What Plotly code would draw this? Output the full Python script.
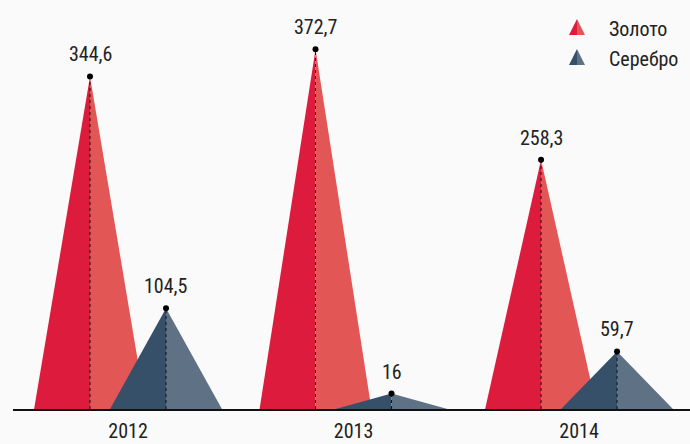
import plotly.graph_objects as go

years = ["2012", "2013", "2014"]
gold = [344.6, 372.7, 258.3]
silver = [104.5, 16, 59.7]
gold_labels = ["344,6", "372,7", "258,3"]
silver_labels = ["104,5", "16", "59,7"]
series_names = ["Золото", "Серебро"]

FONT = "Roboto Condensed, Liberation Sans Narrow, DejaVu Sans Condensed, Roboto, sans-serif"
GOLD_L, GOLD_R = "#DD1C3D", "#E35656"
SILV_L, SILV_R = "#36506A", "#5E7185"
OFF = 0.1685
HW = 0.248
FS = 20

fig = go.Figure()

def halves(values, offset):
    lx, ly, rx, ry = [], [], [], []
    for i, v in enumerate(values):
        c = i + offset
        lx += [c - HW, c, c, None]
        ly += [0, v, 0, None]
        rx += [c, c + HW, c, None]
        ry += [v, 0, 0, None]
    return lx, ly, rx, ry

for vals, off, cl, cr in [(gold, -OFF, GOLD_L, GOLD_R), (silver, OFF, SILV_L, SILV_R)]:
    lx, ly, rx, ry = halves(vals, off)
    fig.add_trace(go.Scatter(x=lx, y=ly, fill="toself", fillcolor=cl, mode="none",
                             hoverinfo="skip", showlegend=False))
    fig.add_trace(go.Scatter(x=rx, y=ry, fill="toself", fillcolor=cr, mode="none",
                             hoverinfo="skip", showlegend=False))

for vals, labels, off in [(gold, gold_labels, -OFF), (silver, silver_labels, OFF)]:
    dx, dy = [], []
    for i, v in enumerate(vals):
        dx += [i + off, i + off, None]
        dy += [0, v, None]
    fig.add_trace(go.Scatter(x=dx, y=dy, mode="lines",
                             line=dict(color="#111111", width=1, dash="dot"),
                             hoverinfo="skip", showlegend=False))
    xs = [i + off for i in range(len(vals))]
    fig.add_trace(go.Scatter(x=xs, y=vals, mode="markers",
                             marker=dict(color="#000000", size=6),
                             showlegend=False, hoverinfo="skip", cliponaxis=False))
    for x, v, t in zip(xs, vals, labels):
        fig.add_annotation(x=x, y=v, text=t, showarrow=False, xanchor="center",
                           yanchor="bottom", yshift=8,
                           font=dict(family=FONT, size=FS, color="#222222"))

# legend (manual)
L, T, PW, PH = 13, 23, 677, 386
def px(x):
    return (x - L) / PW
def py(y):
    return (T + PH - y) / PH

for (ytop, cl, cr, name) in [(19, GOLD_L, GOLD_R, series_names[0]), (49, SILV_L, SILV_R, series_names[1])]:
    yb = ytop + 16
    fig.add_shape(type="path", xref="paper", yref="paper",
                  path=f"M {px(569)} {py(yb)} L {px(577)} {py(ytop)} L {px(577)} {py(yb)} Z",
                  fillcolor=cl, line=dict(width=0))
    fig.add_shape(type="path", xref="paper", yref="paper",
                  path=f"M {px(577)} {py(ytop)} L {px(585)} {py(yb)} L {px(577)} {py(yb)} Z",
                  fillcolor=cr, line=dict(width=0))
    fig.add_annotation(x=px(607), y=py(ytop + 10), xref="paper", yref="paper",
                       text=name, showarrow=False, xanchor="left", yanchor="middle",
                       font=dict(family=FONT, size=FS, color="#222222"))

fig.update_layout(
    width=690, height=444,
    margin=dict(l=L, r=0, t=T, b=444 - T - PH, autoexpand=False),
    paper_bgcolor="#FAFAFA", plot_bgcolor="#FAFAFA",
    xaxis=dict(range=[-0.51, 2.492], tickmode="array", tickvals=[0, 1, 2], ticktext=years,
               showgrid=False, zeroline=False, showline=True, linecolor="#111111", linewidth=1.5,
               ticks="", ticklabelstandoff=3, automargin=False,
               tickfont=dict(family=FONT, size=FS, color="#222222"), fixedrange=True),
    yaxis=dict(range=[0, 400], visible=False, fixedrange=True, automargin=False),
    showlegend=False,
)

fig.write_html("out.html", config={"displayModeBar": False},
               post_script="document.body.style.margin='0';document.body.style.background='#FAFAFA';")
